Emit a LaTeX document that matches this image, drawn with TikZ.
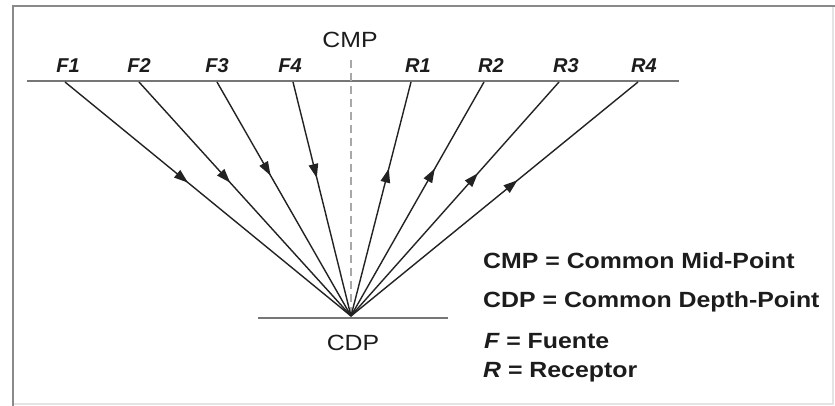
\documentclass[tikz,border=0pt]{standalone}
\usepackage{fontspec}
\setmainfont{Liberation Sans}
\newfontfamily\widesans[FakeStretch=1.13]{Liberation Sans}
\usetikzlibrary{arrows.meta,decorations.markings}

\definecolor{framegray}{HTML}{8A8A8A}
\definecolor{faintgray}{HTML}{E4E4E4}
\definecolor{surfgray}{HTML}{767676}
\definecolor{raygray}{HTML}{222222}
\definecolor{dashgray}{HTML}{A8A8A8}
\definecolor{inkgray}{HTML}{1C1C1C}

\tikzset{
  frameline/.style={draw=framegray, line width=2.4pt},
  faintline/.style={draw=faintgray, line width=1.5pt},
  surface/.style={draw=surfgray, line width=2.2pt},
  ray/.style={draw=raygray, line width=1.4pt},
  tip at/.style={postaction={decorate, decoration={markings,
      mark=at position #1 with {\arrow{Triangle[length=14pt,width=9.5pt]}}}}},
  midline/.style={draw=dashgray, line width=1.6pt, dash pattern=on 8pt off 5pt},
  stationlabel/.style={anchor=base, inner sep=0pt,
      font=\fontsize{20}{24}\selectfont\bfseries\itshape, text=inkgray},
  pointlabel/.style={anchor=base, inner sep=0pt,
      font=\widesans\fontsize{22}{26}\selectfont, text=inkgray},
  legendline/.style={anchor=base west, inner sep=0pt,
      font=\widesans\fontsize{22}{26}\selectfont\bfseries, text=inkgray},
}

\begin{document}
\begin{tikzpicture}[x=1pt, y=-1pt]
  \useasboundingbox (0,0) rectangle (835,406);
  \fill[white] (0,0) rectangle (835,406);

  % outer frame
  \draw[faintline] (833,6) -- (833,404) -- (13,404);
  \draw[frameline] (13,406) -- (13,6) -- (835,6);

  % surface and reflector
  \coordinate (sL) at (27,81);
  \coordinate (sR) at (679,81);
  \draw[surface] (sL) -- (sR);
  \coordinate (bL) at (258,318);
  \coordinate (bR) at (448,318);
  \draw[surface] (bL) -- (bR);

  % sources, receivers, common points
  \coordinate (F1) at (65,82);
  \coordinate (F2) at (139,82);
  \coordinate (F3) at (217,82);
  \coordinate (F4) at (293,82);
  \coordinate (R1) at (411,82);
  \coordinate (R2) at (484,82);
  \coordinate (R3) at (559,82);
  \coordinate (R4) at (638,82);
  \coordinate (cmp) at (351,60);
  \coordinate (cdp) at (351,316);

  % mid-point vertical
  \draw[midline] (cmp) -- (cdp);

  % downgoing rays
  \draw[ray, tip at=0.43] (F1) -- (cdp);
  \draw[ray, tip at=0.43] (F2) -- (cdp);
  \draw[ray, tip at=0.40] (F3) -- (cdp);
  \draw[ray, tip at=0.41] (F4) -- (cdp);

  % upgoing rays
  \draw[ray, tip at=0.63] (cdp) -- (R1);
  \draw[ray, tip at=0.63] (cdp) -- (R2);
  \draw[ray, tip at=0.61] (cdp) -- (R3);
  \draw[ray, tip at=0.58] (cdp) -- (R4);

  % station labels
  \node[stationlabel] (tF1) at (68,73)  {F1};
  \node[stationlabel] (tF2) at (139,73) {F2};
  \node[stationlabel] (tF3) at (217,73) {F3};
  \node[stationlabel] (tF4) at (290,73) {F4};
  \node[stationlabel] (tR1) at (418,73) {R1};
  \node[stationlabel] (tR2) at (491,73) {R2};
  \node[stationlabel] (tR3) at (566,73) {R3};
  \node[stationlabel] (tR4) at (644,73) {R4};

  \node[pointlabel] (tcmp) at (350,48)  {CMP};
  \node[pointlabel] (tcdp) at (353,350) {CDP};

  % legend
  \node[legendline] (l1) at (483,268) {CMP = Common Mid-Point};
  \node[legendline] (l2) at (483,307) {CDP = Common Depth-Point};
  \node[legendline] (l3) at (484,348) {\itshape F\upshape{} = Fuente};
  \node[legendline] (l4) at (483,377) {\itshape R\upshape{} = Receptor};
\end{tikzpicture}
\end{document}
